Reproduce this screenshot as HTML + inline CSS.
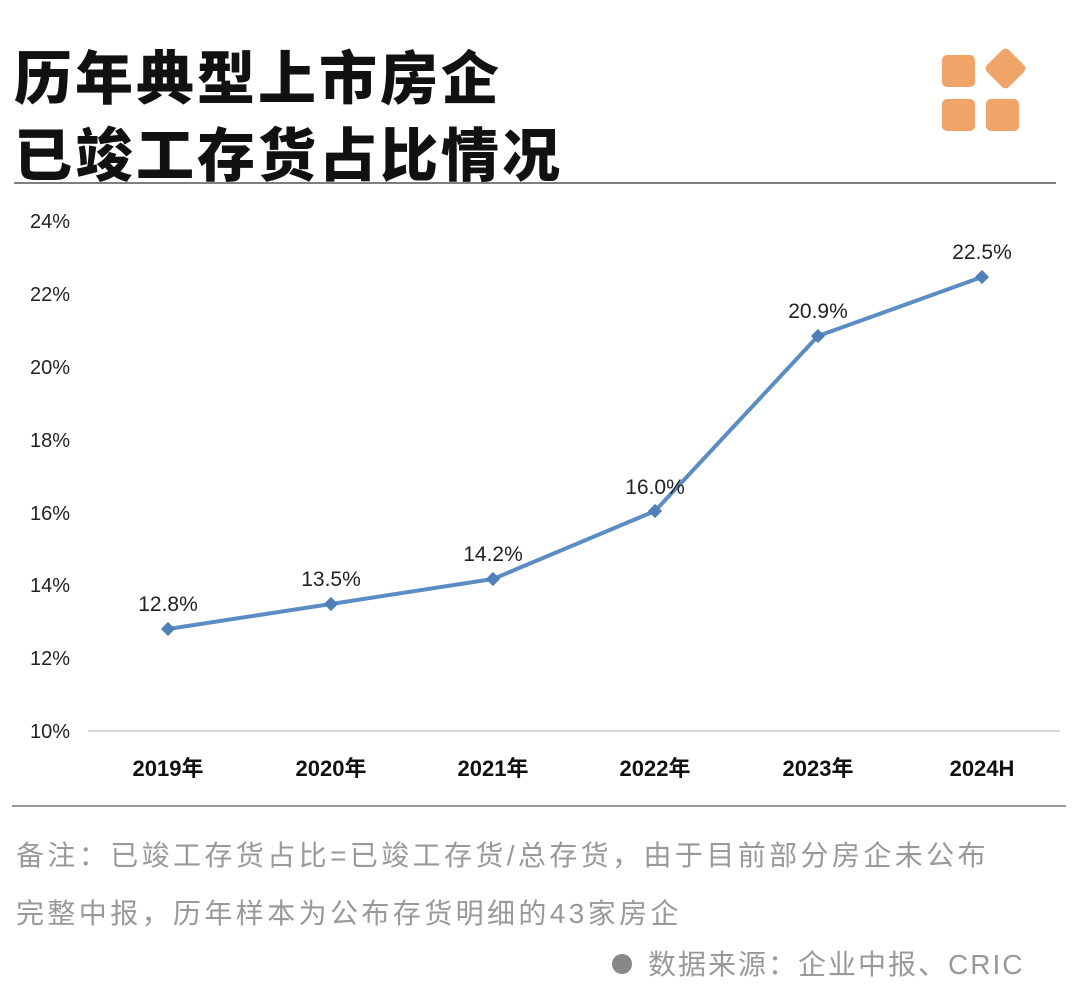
<!DOCTYPE html>
<html><head><meta charset="utf-8"><style>
body{margin:0;width:1080px;height:1007px;background:#fff;overflow:hidden;font-family:"Liberation Sans","Noto Sans CJK SC",sans-serif;}
</style></head><body>
<svg width="1080" height="1007" xmlns="http://www.w3.org/2000/svg" style="position:absolute;left:0;top:0">
<g font-family="'Liberation Sans','Noto Sans CJK SC',sans-serif">
<text x="14" y="99" font-size="58" font-weight="900" fill="#111" letter-spacing="3">历年典型上市房企</text>
<text x="14" y="176" font-size="58" font-weight="900" fill="#111" letter-spacing="3">已竣工存货占比情况</text>
<line x1="14" y1="183" x2="1056" y2="183" stroke="#555" stroke-width="1.5"/>
<g fill="#f0a468">
<rect x="942" y="55" width="33" height="32" rx="5"/>
<rect x="942" y="99" width="33" height="32" rx="5"/>
<rect x="986" y="99" width="33" height="32" rx="5"/>
<rect x="990" y="53" width="31" height="31" rx="5" transform="rotate(45 1005.5 68.5)"/>
</g>
<g font-size="20" fill="#222" text-anchor="end">
<text x="70" y="228">24%</text><text x="70" y="301">22%</text><text x="70" y="374">20%</text>
<text x="70" y="447">18%</text><text x="70" y="520">16%</text><text x="70" y="592">14%</text>
<text x="70" y="665">12%</text><text x="70" y="738">10%</text>
</g>
<line x1="88" y1="731" x2="1060" y2="731" stroke="#ccc" stroke-width="1.5"/>
<g font-size="22" fill="#111" text-anchor="middle" font-weight="bold">
<text x="168" y="776">2019年</text><text x="331" y="776">2020年</text><text x="493" y="776">2021年</text>
<text x="655" y="776">2022年</text><text x="818" y="776">2023年</text><text x="982" y="776">2024H</text>
</g>
<polyline points="168,629 331,604 493,579 655,511 818,336 982,277" fill="none" stroke="#5b8cc4" stroke-width="4" stroke-linejoin="round"/>
<g fill="#4f7fb8">
<rect x="163" y="624" width="10" height="10" transform="rotate(45 168 629)"/>
<rect x="326" y="599" width="10" height="10" transform="rotate(45 331 604)"/>
<rect x="488" y="574" width="10" height="10" transform="rotate(45 493 579)"/>
<rect x="650" y="506" width="10" height="10" transform="rotate(45 655 511)"/>
<rect x="813" y="331" width="10" height="10" transform="rotate(45 818 336)"/>
<rect x="977" y="272" width="10" height="10" transform="rotate(45 982 277)"/>
</g>
<g font-size="21" fill="#222" text-anchor="middle">
<text x="168" y="611">12.8%</text><text x="331" y="586">13.5%</text><text x="493" y="561">14.2%</text>
<text x="655" y="494">16.0%</text><text x="818" y="318">20.9%</text><text x="982" y="259">22.5%</text>
</g>
<line x1="12" y1="806" x2="1066" y2="806" stroke="#777" stroke-width="1.5"/>
<g font-size="28" fill="#999">
<text x="16" y="865" letter-spacing="3.4">备注：已竣工存货占比=已竣工存货/总存货，由于目前部分房企未公布</text>
<text x="16" y="923" letter-spacing="3.4">完整中报，历年样本为公布存货明细的43家房企</text>
<text x="648" y="974" letter-spacing="2">数据来源：企业中报、CRIC</text>
</g>
<circle cx="622" cy="964" r="10" fill="#888"/>
</g>
</svg>
</body></html>
